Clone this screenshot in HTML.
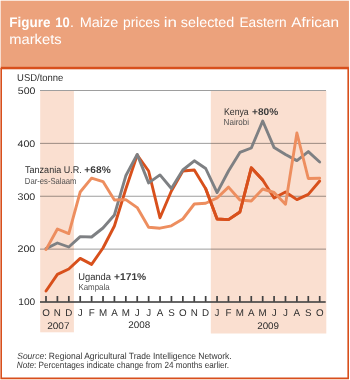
<!DOCTYPE html>
<html><head><meta charset="utf-8"><style>
html,body{margin:0;padding:0;background:#fff;width:350px;height:380px;overflow:hidden}
svg{display:block;will-change:transform}
text{font-family:"Liberation Sans",sans-serif;text-rendering:geometricPrecision}
</style></head><body>
<svg width="350" height="380" viewBox="0 0 350 380">
<rect x="0" y="0" width="350" height="380" fill="#fff"/>
<rect x="0.65" y="0.7" width="348.3" height="66.3" fill="#ECA27C"/>
<rect x="40.2" y="91" width="33.7" height="241.3" fill="#FADFD0"/>
<rect x="210.8" y="91" width="115.5" height="242.5" fill="#FADFD0"/>
<rect x="40" y="90.00" width="286" height="1" fill="#9E9E9E" style="mix-blend-mode:multiply"/>
<rect x="40" y="142.87" width="286" height="1" fill="#9E9E9E" style="mix-blend-mode:multiply"/>
<rect x="40" y="195.75" width="286" height="1" fill="#9E9E9E" style="mix-blend-mode:multiply"/>
<rect x="40" y="248.62" width="286" height="1" fill="#9E9E9E" style="mix-blend-mode:multiply"/>
<rect x="40" y="301.2" width="285.7" height="1.6" fill="#424242"/>
<rect x="45.15" y="296.0" width="1.7" height="5.8" fill="#424242"/>
<rect x="56.55" y="296.0" width="1.7" height="5.8" fill="#424242"/>
<rect x="67.96" y="296.0" width="1.7" height="5.8" fill="#424242"/>
<rect x="79.36" y="296.0" width="1.7" height="5.8" fill="#424242"/>
<rect x="90.77" y="296.0" width="1.7" height="5.8" fill="#424242"/>
<rect x="102.17" y="296.0" width="1.7" height="5.8" fill="#424242"/>
<rect x="113.57" y="296.0" width="1.7" height="5.8" fill="#424242"/>
<rect x="124.98" y="296.0" width="1.7" height="5.8" fill="#424242"/>
<rect x="136.38" y="296.0" width="1.7" height="5.8" fill="#424242"/>
<rect x="147.79" y="296.0" width="1.7" height="5.8" fill="#424242"/>
<rect x="159.19" y="296.0" width="1.7" height="5.8" fill="#424242"/>
<rect x="170.59" y="296.0" width="1.7" height="5.8" fill="#424242"/>
<rect x="182.00" y="296.0" width="1.7" height="5.8" fill="#424242"/>
<rect x="193.40" y="296.0" width="1.7" height="5.8" fill="#424242"/>
<rect x="204.81" y="296.0" width="1.7" height="5.8" fill="#424242"/>
<rect x="216.21" y="296.0" width="1.7" height="5.8" fill="#424242"/>
<rect x="227.61" y="296.0" width="1.7" height="5.8" fill="#424242"/>
<rect x="239.02" y="296.0" width="1.7" height="5.8" fill="#424242"/>
<rect x="250.42" y="296.0" width="1.7" height="5.8" fill="#424242"/>
<rect x="261.83" y="296.0" width="1.7" height="5.8" fill="#424242"/>
<rect x="273.23" y="296.0" width="1.7" height="5.8" fill="#424242"/>
<rect x="284.63" y="296.0" width="1.7" height="5.8" fill="#424242"/>
<rect x="296.04" y="296.0" width="1.7" height="5.8" fill="#424242"/>
<rect x="307.44" y="296.0" width="1.7" height="5.8" fill="#424242"/>
<rect x="318.85" y="296.0" width="1.7" height="5.8" fill="#424242"/>
<polyline points="46.0,291.0 57.4,274.4 68.8,269.0 80.2,258.4 91.6,264.4 103.0,248.0 114.4,226.0 125.8,189.0 137.2,155.0 148.6,171.0 160.0,217.8 171.4,191.0 182.8,171.0 194.3,170.0 205.7,188.8 217.1,219.0 228.5,219.6 239.9,212.0 251.3,167.8 262.7,180.0 274.1,198.0 285.5,192.0 296.9,199.6 308.3,194.4 319.7,181.0" fill="none" stroke="#D8501C" stroke-width="2.9" stroke-linejoin="round" stroke-linecap="round"/>
<polyline points="46.0,248.6 57.4,243.0 68.8,247.0 80.2,236.6 91.6,237.0 103.0,228.0 114.4,215.0 125.8,175.8 137.2,154.4 148.6,182.9 160.0,174.9 171.4,188.5 182.8,170.0 194.3,160.8 205.7,168.5 217.1,192.6 228.5,171.0 239.9,152.4 251.3,148.0 262.7,121.0 274.1,147.6 285.5,154.5 296.9,160.6 308.3,151.6 319.7,162.0" fill="none" stroke="#7E8083" stroke-width="2.9" stroke-linejoin="round" stroke-linecap="round"/>
<polyline points="46.0,249.6 57.4,229.0 68.8,233.6 80.2,192.0 91.6,178.1 103.0,181.6 114.4,200.0 125.8,199.6 137.2,207.6 148.6,227.3 160.0,228.2 171.4,225.8 182.8,219.0 194.3,204.0 205.7,203.2 217.1,198.0 228.5,187.1 239.9,200.0 251.3,201.0 262.7,189.0 274.1,192.5 285.5,204.2 296.9,133.0 308.3,178.5 319.7,178.3" fill="none" stroke="#ED8E5F" stroke-width="2.9" stroke-linejoin="round" stroke-linecap="round"/>
<polyline points="205.7,188.8 217.1,219.0 228.5,219.6 239.9,212.0 251.3,167.8 262.7,180.0" fill="none" stroke="#D8501C" stroke-width="2.9" stroke-linejoin="round" stroke-linecap="round"/>
<path d="M1.2,68 V378.4 H348.2 V68" fill="none" stroke="#D84F1C" stroke-width="1.6"/>
<rect x="0.65" y="66.8" width="348.3" height="2.5" fill="#D84F1C"/>
<text x="9.34" y="27" font-size="14" font-weight="bold" fill="#fff" textLength="41.07" lengthAdjust="spacingAndGlyphs">Figure</text>
<text x="55.21" y="27" font-size="14" font-weight="bold" fill="#fff" textLength="14.43" lengthAdjust="spacingAndGlyphs">10</text>
<text x="70.1" y="27" font-size="14" font-weight="normal" fill="#fff">.</text>
<text x="79.67" y="27" font-size="14" font-weight="normal" fill="#fff" textLength="38.67" lengthAdjust="spacingAndGlyphs">Maize</text>
<text x="123.01" y="27" font-size="14" font-weight="normal" fill="#fff" textLength="36.94" lengthAdjust="spacingAndGlyphs">prices</text>
<text x="163.79" y="27" font-size="14" font-weight="normal" fill="#fff" textLength="13.21" lengthAdjust="spacingAndGlyphs">in</text>
<text x="180.89" y="27" font-size="14" font-weight="normal" fill="#fff" textLength="53.34" lengthAdjust="spacingAndGlyphs">selected</text>
<text x="239.42" y="27" font-size="14" font-weight="normal" fill="#fff" textLength="47.26" lengthAdjust="spacingAndGlyphs">Eastern</text>
<text x="291.3" y="27" font-size="14" font-weight="normal" fill="#fff" textLength="47.81" lengthAdjust="spacingAndGlyphs">African</text>
<text x="9.25" y="43.8" font-size="14" font-weight="normal" fill="#fff" textLength="52.33" lengthAdjust="spacingAndGlyphs">markets</text>
<text x="17.09" y="80.8" font-size="10" font-weight="normal" fill="#2E2E2E" textLength="46.31" lengthAdjust="spacingAndGlyphs">USD/tonne</text>
<text x="17.85" y="94.2" font-size="9.6" font-weight="normal" fill="#2E2E2E" textLength="17.64" lengthAdjust="spacingAndGlyphs">500</text>
<text x="17.52" y="146.9" font-size="9.6" font-weight="normal" fill="#2E2E2E" textLength="17.77" lengthAdjust="spacingAndGlyphs">400</text>
<text x="17.44" y="200.0" font-size="9.6" font-weight="normal" fill="#2E2E2E" textLength="17.85" lengthAdjust="spacingAndGlyphs">300</text>
<text x="17.44" y="252.2" font-size="9.6" font-weight="normal" fill="#2E2E2E" textLength="17.85" lengthAdjust="spacingAndGlyphs">200</text>
<text x="18.3" y="305.1" font-size="9.6" font-weight="normal" fill="#2E2E2E" textLength="16.98" lengthAdjust="spacingAndGlyphs">100</text>
<text x="47.18" y="328.6" font-size="9.6" font-weight="normal" fill="#2E2E2E" textLength="22.28" lengthAdjust="spacingAndGlyphs">2007</text>
<text x="128.39" y="328.4" font-size="9.6" font-weight="normal" fill="#2E2E2E" textLength="21.97" lengthAdjust="spacingAndGlyphs">2008</text>
<text x="257.19" y="328.8" font-size="9.6" font-weight="normal" fill="#2E2E2E" textLength="21.86" lengthAdjust="spacingAndGlyphs">2009</text>
<text x="25.07" y="173.4" font-size="9.8" font-weight="normal" fill="#2E2E2E" textLength="56.66" lengthAdjust="spacingAndGlyphs">Tanzania U.R.</text>
<text x="224.03" y="114.5" font-size="9.8" font-weight="normal" fill="#2E2E2E" textLength="24.69" lengthAdjust="spacingAndGlyphs">Kenya</text>
<text x="78.18" y="280.0" font-size="9.8" font-weight="normal" fill="#2E2E2E" textLength="32.85" lengthAdjust="spacingAndGlyphs">Uganda</text>
<text x="84.38" y="173.4" font-size="9.8" font-weight="bold" fill="#3C3C3C" textLength="26.32" lengthAdjust="spacingAndGlyphs">+68%</text>
<text x="252.08" y="114.5" font-size="9.8" font-weight="bold" fill="#3C3C3C" textLength="26.11" lengthAdjust="spacingAndGlyphs">+80%</text>
<text x="114.08" y="280.0" font-size="9.8" font-weight="bold" fill="#3C3C3C" textLength="32.12" lengthAdjust="spacingAndGlyphs">+171%</text>
<text x="17.26" y="358.5" font-size="9" font-weight="normal" fill="#383838" textLength="214.47" lengthAdjust="spacingAndGlyphs"><tspan font-style="italic">Source</tspan>: Regional Agricultural Trade Intelligence Network.</text>
<text x="16.87" y="368.0" font-size="9" font-weight="normal" fill="#383838" textLength="212.23" lengthAdjust="spacingAndGlyphs"><tspan font-style="italic">Note</tspan>: Percentages indicate change from 24 months earlier.</text>
<text x="24.85" y="184.0" font-size="8.8" font-weight="normal" fill="#505050" textLength="51.63" lengthAdjust="spacingAndGlyphs">Dar-es-Salaam</text>
<text x="223.62" y="124.7" font-size="8.8" font-weight="normal" fill="#505050" textLength="25.46" lengthAdjust="spacingAndGlyphs">Nairobi</text>
<text x="78.42" y="289.9" font-size="8.8" font-weight="normal" fill="#505050" textLength="31.26" lengthAdjust="spacingAndGlyphs">Kampala</text>
<text x="46.00" y="316" font-size="9.8" fill="#2E2E2E" text-anchor="middle">O</text>
<text x="57.40" y="316" font-size="9.8" fill="#2E2E2E" text-anchor="middle">N</text>
<text x="68.81" y="316" font-size="9.8" fill="#2E2E2E" text-anchor="middle">D</text>
<text x="80.21" y="316" font-size="9.8" fill="#2E2E2E" text-anchor="middle">J</text>
<text x="91.62" y="316" font-size="9.8" fill="#2E2E2E" text-anchor="middle">F</text>
<text x="103.02" y="316" font-size="9.8" fill="#2E2E2E" text-anchor="middle">M</text>
<text x="114.42" y="316" font-size="9.8" fill="#2E2E2E" text-anchor="middle">A</text>
<text x="125.83" y="316" font-size="9.8" fill="#2E2E2E" text-anchor="middle">M</text>
<text x="137.23" y="316" font-size="9.8" fill="#2E2E2E" text-anchor="middle">J</text>
<text x="148.64" y="316" font-size="9.8" fill="#2E2E2E" text-anchor="middle">J</text>
<text x="160.04" y="316" font-size="9.8" fill="#2E2E2E" text-anchor="middle">A</text>
<text x="171.44" y="316" font-size="9.8" fill="#2E2E2E" text-anchor="middle">S</text>
<text x="182.85" y="316" font-size="9.8" fill="#2E2E2E" text-anchor="middle">O</text>
<text x="194.25" y="316" font-size="9.8" fill="#2E2E2E" text-anchor="middle">N</text>
<text x="205.66" y="316" font-size="9.8" fill="#2E2E2E" text-anchor="middle">D</text>
<text x="217.06" y="316" font-size="9.8" fill="#2E2E2E" text-anchor="middle">J</text>
<text x="228.46" y="316" font-size="9.8" fill="#2E2E2E" text-anchor="middle">F</text>
<text x="239.87" y="316" font-size="9.8" fill="#2E2E2E" text-anchor="middle">M</text>
<text x="251.27" y="316" font-size="9.8" fill="#2E2E2E" text-anchor="middle">A</text>
<text x="262.68" y="316" font-size="9.8" fill="#2E2E2E" text-anchor="middle">M</text>
<text x="274.08" y="316" font-size="9.8" fill="#2E2E2E" text-anchor="middle">J</text>
<text x="285.48" y="316" font-size="9.8" fill="#2E2E2E" text-anchor="middle">J</text>
<text x="296.89" y="316" font-size="9.8" fill="#2E2E2E" text-anchor="middle">A</text>
<text x="308.29" y="316" font-size="9.8" fill="#2E2E2E" text-anchor="middle">S</text>
<text x="319.70" y="316" font-size="9.8" fill="#2E2E2E" text-anchor="middle">O</text>
</svg>
</body></html>
